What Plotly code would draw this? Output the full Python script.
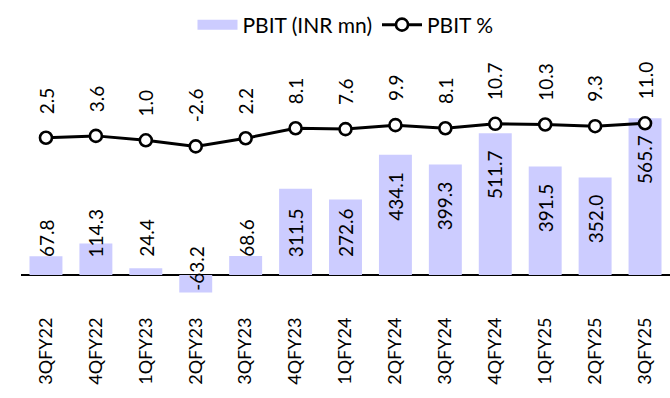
import plotly.graph_objects as go

quarters = ["3QFY22", "4QFY22", "1QFY23", "2QFY23", "3QFY23", "4QFY23", "1QFY24",
            "2QFY24", "3QFY24", "4QFY24", "1QFY25", "2QFY25", "3QFY25"]
pbit = [67.8, 114.3, 24.4, -63.2, 68.6, 311.5, 272.6, 434.1, 399.3, 511.7, 391.5, 352.0, 565.7]
pbit_pct = [2.5, 3.6, 1.0, -2.6, 2.2, 8.1, 7.6, 9.9, 8.1, 10.7, 10.3, 9.3, 11.0]

BAR_COLOR = "#CCCCFF"
FONT = "Lato"
LBL = 19

fig = go.Figure()
fig.add_trace(go.Bar(x=quarters, y=pbit, marker=dict(color=BAR_COLOR, line=dict(width=0)),
                     width=0.66, name="PBIT (INR mn)", showlegend=False, yaxis="y"))
# legend swatch for bars (wide rectangle as in reference)
fig.add_trace(go.Scatter(x=[None], y=[None], mode="lines", name="PBIT (INR mn)",
                         line=dict(color=BAR_COLOR, width=14)))
fig.add_trace(go.Scatter(x=quarters, y=pbit_pct, mode="lines+markers", name="PBIT %",
                         yaxis="y2", line=dict(color="black", width=3),
                         marker=dict(symbol="circle", size=12, color="white",
                                     line=dict(color="black", width=2.6))))

annotations = []
for q, v in zip(quarters, pbit):
    txt = f"{v:.1f}"
    if v < 0:
        a = dict(y=v, yanchor="bottom", yshift=0)
    elif v > 314:
        a = dict(y=v, yanchor="top", yshift=-15)
    else:
        a = dict(y=0, yanchor="bottom", yshift=16)
    annotations.append(dict(x=q, xref="x", yref="y", text=txt, showarrow=False,
                            textangle=-90, xanchor="center",
                            font=dict(family=FONT, size=LBL, color="black"), **a))
for q, v in zip(quarters, pbit_pct):
    annotations.append(dict(x=q, xref="x", y=v, yref="y2", text=f"{v:.1f}", showarrow=False,
                            textangle=-90, xanchor="center", yanchor="bottom", yshift=22,
                            font=dict(family=FONT, size=LBL, color="black")))

fig.update_layout(
    width=670, height=398,
    margin=dict(l=21, r=0, t=5, b=85, autoexpand=False),
    paper_bgcolor="white", plot_bgcolor="white",
    font=dict(family=FONT, size=18, color="black"),
    bargap=0.34,
    legend=dict(orientation="h", x=0.5, xanchor="center", y=0.935, yanchor="middle",
                font=dict(family=FONT, size=21, color="black"), itemwidth=40,
                traceorder="normal", bgcolor="rgba(0,0,0,0)"),
    xaxis=dict(type="category", range=[-0.5, 12.5], showgrid=False, showline=False,
               ticks="", tickangle=-90, tickfont=dict(family=FONT, size=18, color="black")),
    yaxis=dict(range=[-137, 975], showgrid=False, showticklabels=False, zeroline=True,
               zerolinecolor="black", zerolinewidth=1.5, showline=False),
    yaxis2=dict(range=[-100.6, 80.6], overlaying="y", side="right", showgrid=False,
                showticklabels=False, zeroline=False, showline=False),
    annotations=annotations,
)

fig.write_html("out.html", config={"displayModeBar": False},
               post_script="document.body.style.margin='0px';")
